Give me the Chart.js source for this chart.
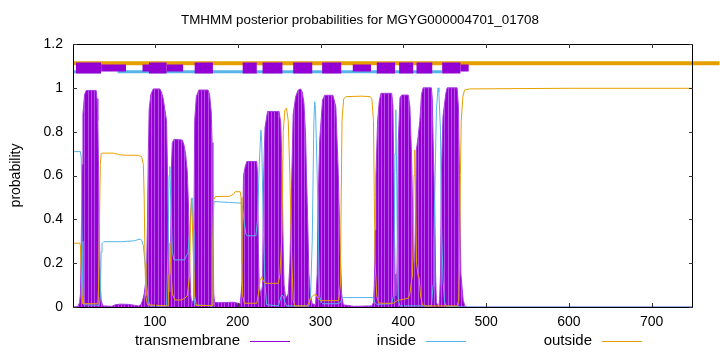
<!DOCTYPE html>
<html><head><meta charset="utf-8">
<script src="https://cdn.jsdelivr.net/npm/chart.js@4/dist/chart.umd.min.js"></script>
<style>html,body{margin:0;padding:0;background:#fff}#wrap{width:720px;height:352px;position:relative}</style>
</head><body><div id="wrap"><canvas id="c" width="720" height="352"></canvas></div>
<script>
const chartTitle = "TMHMM posterior probabilities for MGYG000004701_01708";
const yAxisTitle = "probability";
const seriesNames = ["transmembrane", "inside", "outside"];
const xTickValues = [100, 200, 300, 400, 500, 600, 700];
const yTickValues = [0, 0.2, 0.4, 0.6, 0.8, 1, 1.2];
const yTickLabels = ["0", "0.2", "0.4", "0.6", "0.8", "1", "1.2"];

// transmembrane posterior probability (residue, value)
const tmPos = [1,7,9,10,11,12,13,15,17,29,30,31,32,33,34,35,37,48,52,58,68,75,80,83,85,87,89,90,91,92,93,95,98,106,108,110,112,114,115,116,117,118,119,120,121,123,133,135,137,139,140.5,142,143,144.5,146,147,148,150,153,164,166,168,169,170,171,172,180,195,203,205,206,207,209,211,223,224,225,226,228,230,231,232,233,236,250,252,253,254,255,256,258,261,263,265,267,270,273,276,278,280,282,283,284.5,286,288,290,294,296,297,299,302.5,305,315,318.5,321.5,323.5,325.5,327.5,340,362,364,365,366,367,369,371,373,386,387.5,388.6,390,391,392,393,394,396,398,406,408,410,412,413,414,415,416,418,420,422,424,434,435,436,438,439,440,443,444,445,446,448,451.4,453,465,466.7,468.4,469.6,472.4,474.4,477,750];
const tmVal = [0,0.003,0.02,0.06,0.3,0.65,0.88,0.97,0.988,0.988,0.95,0.85,0.6,0.3,0.1,0.03,0.005,0.003,0.01,0.013,0.012,0.008,0.005,0.01,0.03,0.06,0.12,0.18,0.4,0.7,0.9,0.97,0.995,0.995,0.98,0.95,0.9,0.85,0.65,0.35,0.15,0.07,0.3,0.65,0.75,0.765,0.762,0.74,0.7,0.62,0.47,0.2,0.06,0.015,0.03,0.3,0.85,0.96,0.99,0.99,0.97,0.89,0.75,0.4,0.06,0.02,0.02,0.022,0.015,0.1,0.35,0.6,0.64,0.664,0.664,0.6,0.25,0.1,0.05,0.1,0.5,0.7,0.82,0.892,0.892,0.84,0.7,0.5,0.25,0.1,0.04,0.06,0.2,0.55,0.88,0.96,0.99,0.995,0.98,0.93,0.78,0.61,0.4,0.15,0.05,0.015,0.01,0.15,0.46,0.76,0.945,0.966,0.966,0.914,0.61,0.3,0.06,0.01,0.003,0.005,0.02,0.1,0.35,0.6,0.85,0.94,0.975,0.975,0.92,0.61,0.15,0.05,0.1,0.3,0.76,0.955,0.967,0.967,0.914,0.69,0.3,0.2,0.25,0.45,0.72,0.78,0.85,0.97,1.0,1.0,0.95,0.77,0.46,0.15,0.02,0,0.05,0.15,0.61,0.87,0.975,1.0,1.0,0.91,0.46,0.15,0.03,0.005,0,0];

// inside posterior probability
const inPos = [1,10,11,12,13,14,33,34,35,36,38,60,75,82,84,86,88,90,92,94,114,116,117,118,119,121,123,136,138,140,142,144,145,146,147,148,169,170,171,172,190,204,206,208,210,212,222,224,226,228,229,231,233,235,249,251,253,255,257,259,286,288,290,292,293,294,296,298,299,301,320,324,326,328,363,366,368,386,388,389,390,391,392,393,394,396,434,436,437,438,440,442,443,445,446,448,450,452,475,750];
const inVal = [0.709,0.709,0.68,0.3,0.05,0.01,0.008,0.05,0.25,0.29,0.298,0.298,0.302,0.31,0.305,0.28,0.2,0.1,0.03,0.005,0.005,0.3,0.6,0.641,0.5,0.25,0.215,0.215,0.235,0.245,0.35,0.48,0.498,0.35,0.1,0.01,0.005,0.3,0.47,0.481,0.477,0.474,0.45,0.38,0.33,0.325,0.325,0.4,0.65,0.808,0.75,0.35,0.1,0.01,0.005,0.03,0.055,0.05,0.02,0.005,0.005,0.05,0.3,0.85,0.937,0.9,0.6,0.2,0.05,0.015,0.015,0.02,0.04,0.043,0.043,0.02,0.012,0.015,0.05,0.3,0.7,0.9,0.6,0.2,0.03,0.005,0.005,0.1,0.3,0.5,0.9,1.0,0.98,0.8,0.4,0.12,0.02,0.003,0,0];

// outside posterior probability
const outPos = [1,9,10,11,12,13,31,32,33,34,35,36,50,56,60,80,84,86,87,88,89,91,116,117,118,119,121,124,132,136,139,142,143,144,146,148,150,169,170,171,173,190,195,197,203,204,205,206,208,223,225,227,229,231,233,249,251,253,254,255,257,259,261,263,265,267,269,284,286,289,292,295,297,300,322,324,325,326,328,331,350,360,362,364,365,366,368,370,373,388,393,400,406,408,410,411,412,413,414,415,416,418,419,421,423,426,465,467,468,469,470,472,474,480,600,750];
const outVal = [0.291,0.291,0.28,0.15,0.05,0.015,0.015,0.1,0.4,0.65,0.7,0.702,0.702,0.696,0.693,0.692,0.685,0.65,0.5,0.2,0.05,0.01,0.005,0.15,0.291,0.2,0.06,0.032,0.032,0.04,0.05,0.15,0.4,0.496,0.3,0.05,0.007,0.007,0.3,0.49,0.504,0.505,0.515,0.526,0.526,0.5,0.2,0.05,0.017,0.017,0.06,0.12,0.138,0.12,0.108,0.108,0.15,0.3,0.5,0.8,0.9,0.907,0.85,0.6,0.25,0.03,0.005,0.005,0.02,0.045,0.055,0.055,0.04,0.029,0.029,0.1,0.5,0.85,0.95,0.96,0.962,0.96,0.95,0.85,0.5,0.2,0.05,0.02,0.017,0.017,0.03,0.035,0.04,0.06,0.12,0.14,0.3,0.6,0.717,0.5,0.2,0.14,0.138,0.05,0.01,0.005,0.005,0.03,0.2,0.6,0.85,0.96,0.99,0.995,0.998,0.998];

// predicted topology segments drawn above the curves
const tmSegStart = [4.6, 92.8, 148, 206, 230, 267, 302, 368, 395, 416, 447];
const tmSegEnd   = [34.8, 114, 170, 223, 254, 290, 325, 390, 412, 435, 469];
const tmSegWeakStart = [35, 85, 114, 339, 469];
const tmSegWeakEnd   = [65, 93, 134, 361, 479];
const inSegStart = [1, 55];
const inSegEnd   = [35, 447];
const outSegStart = [1];
const outSegEnd   = [782];
const tmLevel = 1.09, inLevel = 1.073, outLevel = 1.112;

const FONT = "'Liberation Sans', Arial, sans-serif";
const PURPLE = '#9400d3', BLUE = '#56b4e9', ORANGE = '#e69f00';

function pts(xs, ys) { return xs.map((x, i) => ({x: x, y: ys[i]})); }
function segs(starts, ends, level) {
  const out = [];
  starts.forEach((s, i) => { out.push({x: s, y: level}, {x: ends[i], y: level}, {x: ends[i], y: null}); });
  return out;
}

const pc = document.createElement('canvas'); pc.width = 10; pc.height = 4;
const pctx = pc.getContext('2d');
pctx.fillStyle = PURPLE; pctx.fillRect(0, 0, 10, 4);
pctx.fillStyle = '#b650e8'; [1, 4, 8].forEach(s => pctx.fillRect(s, 0, 1, 4));
const ctx = document.getElementById('c').getContext('2d');
const stripe = ctx.createPattern(pc, 'repeat');

const decor = {
  id: 'decor',
  afterDraw(chart) {
    const c = chart.ctx, a = chart.chartArea, xs = chart.scales.x, ys = chart.scales.y;
    c.save();
    c.strokeStyle = '#000'; c.lineWidth = 1;
    c.strokeRect(a.left + 0.5, a.top + 0.5, a.right - a.left - 1, a.bottom - a.top);
    c.strokeStyle = '#333';
    c.beginPath();
    yTickValues.forEach(v => {
      const p = Math.round(ys.getPixelForValue(v)) + 0.5;
      c.moveTo(a.left, p); c.lineTo(a.left + 4, p);
      c.moveTo(a.right - 4, p); c.lineTo(a.right, p);
    });
    xTickValues.forEach(v => {
      const p = Math.round(xs.getPixelForValue(v)) + 0.5;
      c.moveTo(p, a.bottom); c.lineTo(p, a.bottom - 4);
      c.moveTo(p, a.top); c.lineTo(p, a.top + 4);
    });
    c.stroke();
    // key: text then line sample
    const cols = [PURPLE, BLUE, ORANGE];
    const textEnd = [240, 416, 592];
    c.font = "15px " + FONT; c.fillStyle = '#000'; c.textAlign = 'right'; c.textBaseline = 'middle';
    seriesNames.forEach((n, i) => {
      c.fillText(n, textEnd[i], 341);
      c.strokeStyle = cols[i]; c.lineWidth = 1;
      c.beginPath(); c.moveTo(textEnd[i] + 10, 341.5); c.lineTo(textEnd[i] + 50, 341.5); c.stroke();
    });
    c.restore();
  }
};

new Chart(ctx, {
  type: 'line',
  data: {
    datasets: [
      {label: 'tm-seg', data: segs(tmSegStart, tmSegEnd, tmLevel), borderColor: PURPLE, borderWidth: 11, borderCapStyle: 'butt', pointRadius: 0, spanGaps: false, order: 0, clip: false},
      {label: 'tm-seg-weak', data: segs(tmSegWeakStart, tmSegWeakEnd, tmLevel), borderColor: PURPLE, borderWidth: 7, borderCapStyle: 'butt', pointRadius: 0, spanGaps: false, order: 1, clip: false},
      {label: 'out-seg', data: segs(outSegStart, outSegEnd, outLevel), borderColor: ORANGE, borderWidth: 4, borderCapStyle: 'butt', pointRadius: 0, spanGaps: false, order: 2, clip: false},
      {label: 'in-seg', data: segs(inSegStart, inSegEnd, inLevel), borderColor: BLUE, borderWidth: 3, borderCapStyle: 'butt', pointRadius: 0, spanGaps: false, order: 3, clip: false},
      {label: seriesNames[2], data: pts(outPos, outVal), borderColor: ORANGE, borderWidth: 1, pointRadius: 0, tension: 0, order: 4},
      {label: seriesNames[1], data: pts(inPos, inVal), borderColor: BLUE, borderWidth: 1, pointRadius: 0, tension: 0, order: 5},
      {label: seriesNames[0], data: pts(tmPos, tmVal), borderColor: '#a93be0', borderWidth: 1, backgroundColor: stripe, fill: 'origin', pointRadius: 0, tension: 0, order: 6}
    ]
  },
  options: {
    responsive: false, animation: false, devicePixelRatio: 1,
    layout: {padding: {left: 0, right: 0, top: 0, bottom: 0}},
    plugins: {
      legend: {display: false}, tooltip: {enabled: false},
      title: {display: true, text: chartTitle, color: '#000', font: {family: FONT, size: 13.4, weight: 'normal', lineHeight: 1.2}, padding: {top: 12, bottom: 15.92}}
    },
    scales: {
      x: {
        type: 'linear', min: 1, max: 750,
        afterBuildTicks: s => { s.ticks = xTickValues.map(v => ({value: v})); },
        ticks: {color: '#000', font: {family: FONT, size: 14}, padding: 7, maxRotation: 0, autoSkip: false, callback: v => String(v)},
        grid: {display: false, drawTicks: false}, border: {display: false},
        afterFit: s => { s.height = 45; }
      },
      y: {
        min: 0, max: 1.2,
        afterBuildTicks: s => { s.ticks = yTickValues.map(v => ({value: v})); },
        ticks: {color: '#000', font: {family: FONT, size: 14}, padding: 10, autoSkip: false, callback: (v, i) => yTickLabels[i]},
        grid: {display: false, drawTicks: false}, border: {display: false},
        title: {display: true, text: yAxisTitle, color: '#000', font: {family: FONT, size: 14}, padding: {top: 8, bottom: 0}},
        afterFit: s => { s.width = 73; }
      },
      yRight: {
        position: 'right', min: 0, max: 1.2,
        ticks: {display: false}, grid: {display: false, drawTicks: false}, border: {display: false},
        afterFit: s => { s.width = 27; }
      }
    }
  },
  plugins: [decor]
});
</script></body></html>
